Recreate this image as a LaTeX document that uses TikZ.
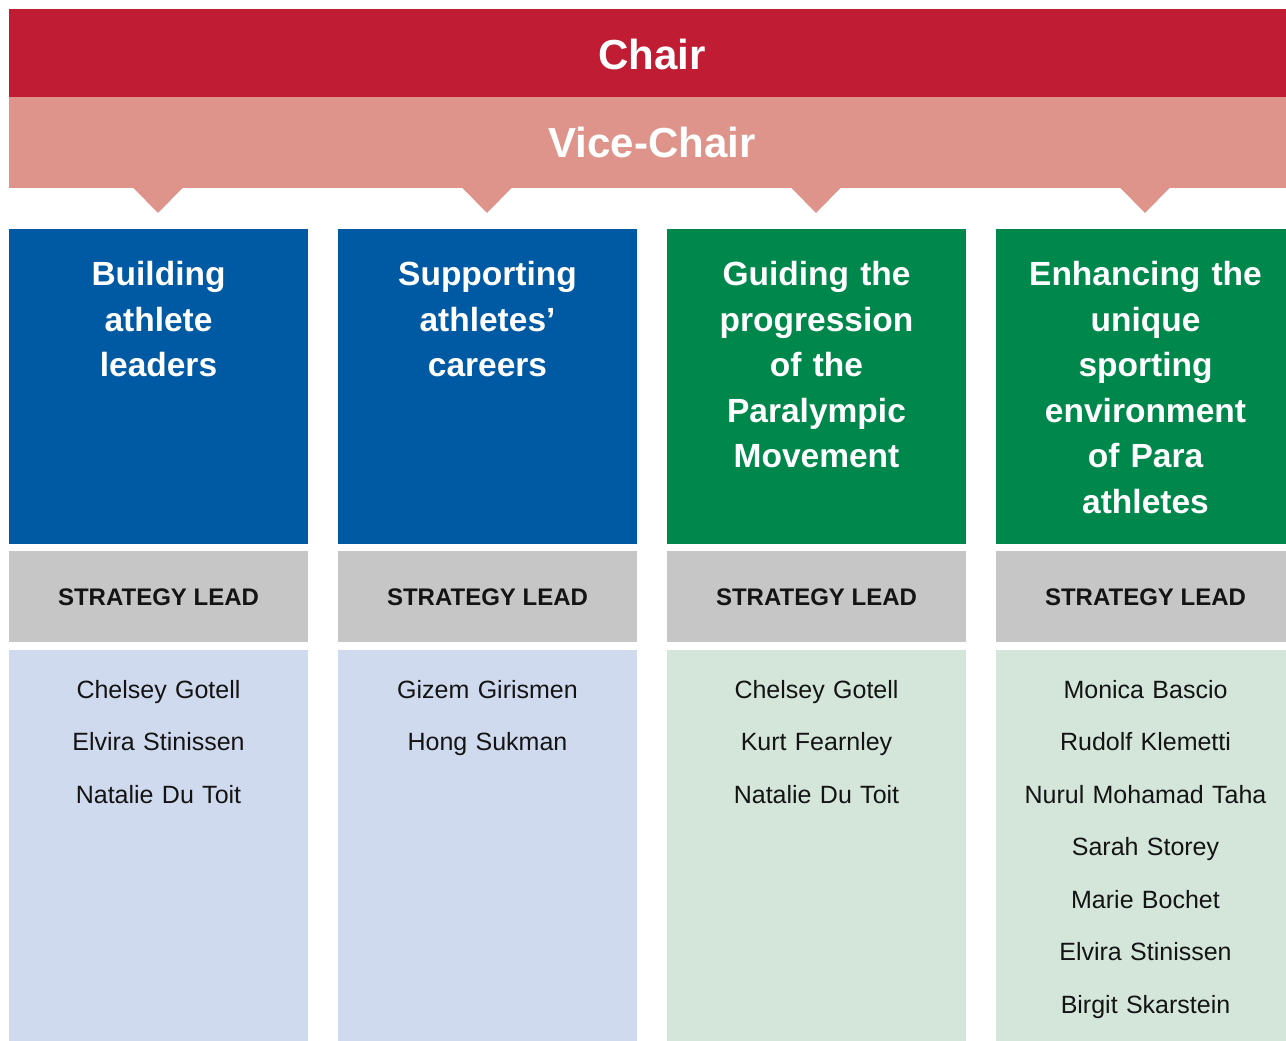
\documentclass[tikz,border=0pt]{standalone}
\usepackage{fontspec}
\setmainfont{Liberation Sans}
\definecolor{chairred}{RGB}{192,28,51}
\definecolor{vicepink}{RGB}{222,148,138}
\definecolor{pblue}{RGB}{0,89,163}
\definecolor{pgreen}{RGB}{0,135,76}
\definecolor{sgray}{RGB}{198,198,198}
\definecolor{lblue}{RGB}{208,218,238}
\definecolor{lgreen}{RGB}{212,230,218}
\definecolor{ink}{RGB}{20,20,20}
\begin{document}
\begin{tikzpicture}[x=1pt,y=-1pt,
  bar/.style={draw=none,inner sep=0,outer sep=0,minimum width=1286pt,anchor=north west},
  colbox/.style={draw=none,inner sep=0,outer sep=0,minimum width=299pt,anchor=north west},
  titletxt/.style={text=white,font=\fontsize{42}{48}\selectfont\bfseries},
  headtxt/.style={text=white,font=\fontsize{33.5}{45.5}\selectfont\bfseries,align=center,text width=295pt,inner sep=0,anchor=north},
  leadtxt/.style={text=ink,font=\fontsize{24}{28}\selectfont\bfseries,inner sep=0},
  nametxt/.style={text=ink,font=\fontsize{25}{52.5}\selectfont,align=center,text width=295pt,inner sep=0,anchor=north},
  arrowtri/.style={fill=vicepink,draw=none}]
\useasboundingbox (0,0) rectangle (1286,1041);
\clip (0,0) rectangle (1286,1041);
% top bars
\node[bar,fill=chairred,minimum height=88pt] (chair) at (9,9) {};
\node[bar,fill=vicepink,minimum height=91pt] (vice) at (9,97) {};
\node[titletxt] (chairt) at (652,54) {Chair};
\node[titletxt] (vicet) at (652,142.5) {Vice-Chair};
% pointers
\foreach \cx/\nm in {158/p1,487/p2,816/p3,1145/p4}{
  \coordinate (\nm l) at (\cx-25,187.5);
  \coordinate (\nm r) at (\cx+25,187.5);
  \coordinate (\nm t) at (\cx,213);
  \fill[arrowtri] (\nm l) -- (\nm t) -- (\nm r) -- cycle;
}
% columns
\foreach \x/\c/\lc/\i in {9/pblue/lblue/1,338/pblue/lblue/2,667/pgreen/lgreen/3,996/pgreen/lgreen/4}{
  \node[colbox,fill=\c,minimum height=315pt] (head\i) at (\x,229) {};
  \node[colbox,fill=sgray,minimum height=91pt] (lead\i) at (\x,551) {};
  \node[colbox,fill=\lc,minimum height=391pt] (names\i) at (\x,650) {};
  \node[leadtxt] (leadt\i) at (\x+149.5,597) {STRATEGY LEAD};
}
% headings
\node[headtxt] (h1) at (158.5,261.5) {Building\\athlete\\leaders};
\node[headtxt] (h2) at (487.5,261.5) {Supporting\\athletes’\\careers};
\node[headtxt] (h3) at (816.5,261.5) {Guiding the\\progression\\of the\\Paralympic\\Movement};
\node[headtxt] (h4) at (1145.5,261.5) {Enhancing the\\unique\\sporting\\environment\\of Para\\athletes};
% names
\node[nametxt] (n1) at (158.5,680) {Chelsey Gotell\\Elvira Stinissen\\Natalie Du Toit};
\node[nametxt] (n2) at (487.5,680) {Gizem Girismen\\Hong Sukman};
\node[nametxt] (n3) at (816.5,680) {Chelsey Gotell\\Kurt Fearnley\\Natalie Du Toit};
\node[nametxt] (n4) at (1145.5,680) {Monica Bascio\\Rudolf Klemetti\\Nurul Mohamad Taha\\Sarah Storey\\Marie Bochet\\Elvira Stinissen\\Birgit Skarstein};
\end{tikzpicture}
\end{document}
